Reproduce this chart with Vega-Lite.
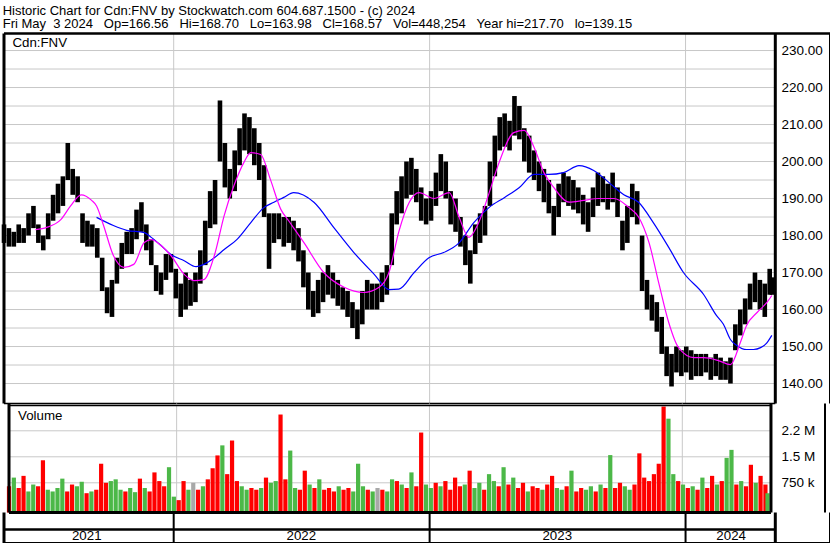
{
"$schema":"https://vega.github.io/schema/vega-lite/v6.json",
"background":"white",
"padding":{"left":1,"top":4.5,"right":2,"bottom":0},
"spacing":0,
"bounds":"flush",
"config":{"view":{"stroke":null},"font":"Liberation Sans","axis":{"labelFont":"Liberation Sans"}},
"title":{"text":["Historic Chart for Cdn:FNV by Stockwatch.com 604.687.1500 - (c) 2024","Fri May\u00a0\u00a03 2024\u00a0\u00a0\u00a0Op=166.56\u00a0\u00a0\u00a0Hi=168.70\u00a0\u00a0\u00a0Lo=163.98\u00a0\u00a0\u00a0Cl=168.57\u00a0\u00a0\u00a0Vol=448,254\u00a0\u00a0\u00a0Year hi=217.70\u00a0\u00a0\u00a0lo=139.15"],"anchor":"start","frame":"bounds","fontSize":13,"fontWeight":"normal","font":"Liberation Sans","color":"#000","lineHeight":13.2,"offset":0.5,"dx":1},
"datasets":{
"w":[
{"t":"2021-05-04","h":183,"l":178,"v":650,"c":"r"},
{"t":"2021-05-11","h":182,"l":177,"v":900,"c":"g"},
{"t":"2021-05-18","h":181,"l":177,"v":600,"c":"r"},
{"t":"2021-05-25","h":183,"l":178,"v":950,"c":"r"},
{"t":"2021-06-01","h":182,"l":178,"v":500,"c":"g"},
{"t":"2021-06-08","h":186,"l":180,"v":700,"c":"g"},
{"t":"2021-06-15","h":188,"l":182,"v":650,"c":"r"},
{"t":"2021-06-22","h":183,"l":178,"v":1400,"c":"r"},
{"t":"2021-06-29","h":180,"l":176,"v":550,"c":"g"},
{"t":"2021-07-06","h":186,"l":179,"v":500,"c":"g"},
{"t":"2021-07-13","h":191,"l":184,"v":600,"c":"g"},
{"t":"2021-07-20","h":194,"l":186,"v":870,"c":"g"},
{"t":"2021-07-27","h":196,"l":188,"v":500,"c":"r"},
{"t":"2021-08-03","h":205,"l":195,"v":700,"c":"r"},
{"t":"2021-08-10","h":198,"l":191,"v":650,"c":"g"},
{"t":"2021-08-17","h":196,"l":189,"v":780,"c":"g"},
{"t":"2021-08-24","h":186,"l":178,"v":450,"c":"r"},
{"t":"2021-08-31","h":184,"l":177,"v":500,"c":"g"},
{"t":"2021-09-07","h":183,"l":177,"v":550,"c":"r"},
{"t":"2021-09-14","h":182,"l":174,"v":1300,"c":"r"},
{"t":"2021-09-21","h":174,"l":165,"v":750,"c":"r"},
{"t":"2021-09-28","h":166,"l":159,"v":800,"c":"g"},
{"t":"2021-10-05","h":168,"l":158,"v":850,"c":"g"},
{"t":"2021-10-12","h":174,"l":167,"v":550,"c":"g"},
{"t":"2021-10-19","h":178,"l":171,"v":500,"c":"r"},
{"t":"2021-10-26","h":181,"l":175,"v":600,"c":"g"},
{"t":"2021-11-02","h":182,"l":175,"v":480,"c":"g"},
{"t":"2021-11-09","h":187,"l":179,"v":870,"c":"r"},
{"t":"2021-11-16","h":189,"l":181,"v":600,"c":"g"},
{"t":"2021-11-23","h":183,"l":176,"v":500,"c":"r"},
{"t":"2021-11-30","h":179,"l":172,"v":1050,"c":"r"},
{"t":"2021-12-07","h":172,"l":165,"v":800,"c":"r"},
{"t":"2021-12-14","h":170,"l":164,"v":650,"c":"r"},
{"t":"2021-12-21","h":175,"l":168,"v":1200,"c":"g"},
{"t":"2021-12-28","h":175,"l":170,"v":350,"c":"g"},
{"t":"2022-01-04","h":171,"l":163,"v":250,"c":"r"},
{"t":"2022-01-11","h":167,"l":158,"v":800,"c":"r"},
{"t":"2022-01-18","h":170,"l":160,"v":550,"c":"g"},
{"t":"2022-01-25","h":168,"l":161,"v":750,"c":"n"},
{"t":"2022-02-01","h":170,"l":162,"v":550,"c":"r"},
{"t":"2022-02-08","h":176,"l":167,"v":650,"c":"g"},
{"t":"2022-02-15","h":184,"l":172,"v":850,"c":"r"},
{"t":"2022-02-22","h":192,"l":182,"v":1170,"c":"r"},
{"t":"2022-03-01","h":195,"l":183,"v":1540,"c":"r"},
{"t":"2022-03-08","h":216.5,"l":200,"v":1830,"c":"g"},
{"t":"2022-03-15","h":205,"l":193,"v":1000,"c":"r"},
{"t":"2022-03-22","h":198,"l":190,"v":1970,"c":"r"},
{"t":"2022-03-29","h":203,"l":192,"v":800,"c":"r"},
{"t":"2022-04-05","h":209,"l":199,"v":650,"c":"g"},
{"t":"2022-04-12","h":213,"l":203,"v":550,"c":"g"},
{"t":"2022-04-19","h":212,"l":202,"v":600,"c":"r"},
{"t":"2022-04-26","h":209,"l":199,"v":550,"c":"r"},
{"t":"2022-05-03","h":205,"l":195,"v":600,"c":"g"},
{"t":"2022-05-10","h":199,"l":185,"v":900,"c":"r"},
{"t":"2022-05-17","h":186,"l":171,"v":750,"c":"g"},
{"t":"2022-05-24","h":186,"l":178,"v":800,"c":"g"},
{"t":"2022-05-31","h":186,"l":179,"v":2720,"c":"r"},
{"t":"2022-06-07","h":185,"l":177,"v":850,"c":"r"},
{"t":"2022-06-14","h":185,"l":178,"v":1680,"c":"g"},
{"t":"2022-06-21","h":184,"l":176,"v":600,"c":"g"},
{"t":"2022-06-28","h":182,"l":173,"v":550,"c":"r"},
{"t":"2022-07-05","h":176,"l":166,"v":1100,"c":"r"},
{"t":"2022-07-12","h":170,"l":160,"v":700,"c":"g"},
{"t":"2022-07-19","h":165,"l":158,"v":600,"c":"r"},
{"t":"2022-07-26","h":168,"l":159,"v":850,"c":"g"},
{"t":"2022-08-02","h":170,"l":162,"v":550,"c":"r"},
{"t":"2022-08-09","h":172,"l":164,"v":600,"c":"r"},
{"t":"2022-08-16","h":170,"l":163,"v":500,"c":"r"},
{"t":"2022-08-23","h":168,"l":161,"v":650,"c":"g"},
{"t":"2022-08-30","h":166,"l":160,"v":550,"c":"r"},
{"t":"2022-09-06","h":165,"l":158,"v":600,"c":"r"},
{"t":"2022-09-13","h":162,"l":155,"v":500,"c":"g"},
{"t":"2022-09-20","h":160,"l":152,"v":1300,"c":"g"},
{"t":"2022-09-27","h":165,"l":156,"v":650,"c":"g"},
{"t":"2022-10-04","h":168,"l":160,"v":550,"c":"r"},
{"t":"2022-10-11","h":167,"l":160,"v":500,"c":"g"},
{"t":"2022-10-18","h":167,"l":160,"v":600,"c":"n"},
{"t":"2022-10-25","h":170,"l":162,"v":550,"c":"r"},
{"t":"2022-11-01","h":172,"l":164,"v":500,"c":"g"},
{"t":"2022-11-08","h":186,"l":172,"v":850,"c":"g"},
{"t":"2022-11-15","h":192,"l":183,"v":800,"c":"r"},
{"t":"2022-11-22","h":196,"l":186,"v":700,"c":"g"},
{"t":"2022-11-29","h":200,"l":190,"v":600,"c":"r"},
{"t":"2022-12-06","h":201,"l":191,"v":1050,"c":"g"},
{"t":"2022-12-13","h":198,"l":189,"v":650,"c":"r"},
{"t":"2022-12-20","h":193,"l":184,"v":2200,"c":"r"},
{"t":"2022-12-27","h":190,"l":183,"v":700,"c":"g"},
{"t":"2023-01-03","h":192,"l":184,"v":600,"c":"g"},
{"t":"2023-01-10","h":197,"l":188,"v":750,"c":"r"},
{"t":"2023-01-17","h":202,"l":192,"v":650,"c":"g"},
{"t":"2023-01-24","h":200,"l":190,"v":800,"c":"r"},
{"t":"2023-01-31","h":192,"l":183,"v":550,"c":"r"},
{"t":"2023-02-07","h":190,"l":181,"v":900,"c":"r"},
{"t":"2023-02-14","h":185,"l":177,"v":650,"c":"r"},
{"t":"2023-02-21","h":180,"l":172,"v":700,"c":"g"},
{"t":"2023-02-28","h":176,"l":167,"v":1100,"c":"r"},
{"t":"2023-03-07","h":183,"l":175,"v":600,"c":"g"},
{"t":"2023-03-14","h":186,"l":178,"v":750,"c":"g"},
{"t":"2023-03-21","h":188,"l":180,"v":550,"c":"r"},
{"t":"2023-03-28","h":200,"l":188,"v":1000,"c":"g"},
{"t":"2023-04-04","h":207,"l":196,"v":800,"c":"g"},
{"t":"2023-04-11","h":212,"l":203,"v":650,"c":"r"},
{"t":"2023-04-18","h":213,"l":204,"v":1200,"c":"g"},
{"t":"2023-04-25","h":211,"l":203,"v":700,"c":"r"},
{"t":"2023-05-02","h":217.7,"l":207,"v":900,"c":"g"},
{"t":"2023-05-09","h":215,"l":206,"v":600,"c":"r"},
{"t":"2023-05-16","h":209,"l":200,"v":750,"c":"r"},
{"t":"2023-05-23","h":207,"l":197,"v":500,"c":"g"},
{"t":"2023-05-30","h":203,"l":195,"v":650,"c":"r"},
{"t":"2023-06-06","h":200,"l":192,"v":600,"c":"r"},
{"t":"2023-06-13","h":198,"l":189,"v":550,"c":"g"},
{"t":"2023-06-20","h":195,"l":186,"v":700,"c":"r"},
{"t":"2023-06-27","h":188,"l":180,"v":950,"c":"r"},
{"t":"2023-07-04","h":194,"l":185,"v":600,"c":"g"},
{"t":"2023-07-11","h":197,"l":189,"v":550,"c":"g"},
{"t":"2023-07-18","h":196,"l":188,"v":650,"c":"r"},
{"t":"2023-07-25","h":195,"l":187,"v":1100,"c":"g"},
{"t":"2023-08-01","h":193,"l":186,"v":500,"c":"r"},
{"t":"2023-08-08","h":191,"l":183,"v":600,"c":"r"},
{"t":"2023-08-15","h":189,"l":181,"v":550,"c":"g"},
{"t":"2023-08-22","h":193,"l":185,"v":650,"c":"g"},
{"t":"2023-08-29","h":197,"l":188,"v":500,"c":"r"},
{"t":"2023-09-05","h":196,"l":189,"v":700,"c":"g"},
{"t":"2023-09-12","h":194,"l":187,"v":600,"c":"r"},
{"t":"2023-09-19","h":197,"l":189,"v":1550,"c":"g"},
{"t":"2023-09-26","h":193,"l":185,"v":600,"c":"r"},
{"t":"2023-10-03","h":184,"l":176,"v":750,"c":"r"},
{"t":"2023-10-10","h":188,"l":178,"v":650,"c":"g"},
{"t":"2023-10-17","h":194,"l":185,"v":550,"c":"g"},
{"t":"2023-10-24","h":192,"l":183,"v":700,"c":"r"},
{"t":"2023-10-31","h":180,"l":165,"v":1600,"c":"r"},
{"t":"2023-11-07","h":168,"l":160,"v":900,"c":"r"},
{"t":"2023-11-14","h":164,"l":157,"v":800,"c":"r"},
{"t":"2023-11-21","h":162,"l":154,"v":1000,"c":"r"},
{"t":"2023-11-28","h":158,"l":148,"v":1300,"c":"r"},
{"t":"2023-12-05","h":150,"l":142,"v":2950,"c":"r"},
{"t":"2023-12-12","h":148,"l":139.2,"v":2600,"c":"g"},
{"t":"2023-12-19","h":150,"l":143,"v":1000,"c":"g"},
{"t":"2023-12-26","h":149,"l":142,"v":800,"c":"r"},
{"t":"2024-01-02","h":150,"l":143,"v":700,"c":"g"},
{"t":"2024-01-09","h":149,"l":141,"v":600,"c":"r"},
{"t":"2024-01-16","h":148,"l":142,"v":650,"c":"g"},
{"t":"2024-01-23","h":148,"l":142,"v":550,"c":"r"},
{"t":"2024-01-30","h":148,"l":143,"v":900,"c":"g"},
{"t":"2024-02-06","h":147,"l":141,"v":600,"c":"r"},
{"t":"2024-02-13","h":148,"l":142,"v":950,"c":"r"},
{"t":"2024-02-20","h":147,"l":141,"v":700,"c":"g"},
{"t":"2024-02-27","h":146,"l":141,"v":800,"c":"r"},
{"t":"2024-03-05","h":147,"l":140,"v":1470,"c":"g"},
{"t":"2024-03-12","h":156,"l":149,"v":1700,"c":"g"},
{"t":"2024-03-19","h":160,"l":153,"v":700,"c":"r"},
{"t":"2024-03-26","h":163,"l":156,"v":800,"c":"g"},
{"t":"2024-04-02","h":167,"l":160,"v":650,"c":"r"},
{"t":"2024-04-09","h":170,"l":162,"v":1270,"c":"r"},
{"t":"2024-04-16","h":168,"l":160,"v":750,"c":"g"},
{"t":"2024-04-23","h":167,"l":158,"v":950,"c":"r"},
{"t":"2024-04-30","h":171,"l":164,"v":700,"c":"r"},
{"t":"2024-05-03","h":168.7,"l":163.98,"v":448,"c":"g"}
],
"ma1":[
{"t":"2021-06-18","m":181.6},{"t":"2021-07-04","m":182.2},{"t":"2021-07-24","m":184.3},{"t":"2021-08-07","m":188},{"t":"2021-08-22","m":191},{"t":"2021-09-06","m":189.5},{"t":"2021-09-13","m":188},{"t":"2021-09-23","m":182.7},{"t":"2021-10-07","m":174.6},{"t":"2021-10-22","m":171.4},{"t":"2021-11-05","m":172.2},{"t":"2021-11-20","m":178.1},{"t":"2021-11-30","m":178.9},{"t":"2021-12-14","m":177.3},{"t":"2021-12-28","m":174.6},{"t":"2022-01-16","m":169.5},{"t":"2022-01-30","m":167.8},{"t":"2022-02-13","m":168.1},{"t":"2022-02-28","m":174.6},{"t":"2022-03-14","m":185.4},{"t":"2022-03-28","m":193.5},{"t":"2022-04-11","m":199.7},{"t":"2022-04-21","m":202.4},{"t":"2022-05-05","m":201.9},{"t":"2022-05-19","m":195.1},{"t":"2022-06-03","m":187},{"t":"2022-06-14","m":184},{"t":"2022-07-06","m":178},{"t":"2022-08-03","m":170},{"t":"2022-09-01","m":166},{"t":"2022-09-29","m":164.6},{"t":"2022-10-21","m":166},{"t":"2022-11-04","m":170},{"t":"2022-11-18","m":181},{"t":"2022-12-03","m":189},{"t":"2022-12-17","m":191.6},{"t":"2023-01-07","m":190},{"t":"2023-01-29","m":191.6},{"t":"2023-02-12","m":185},{"t":"2023-02-26","m":179.5},{"t":"2023-03-12","m":183.5},{"t":"2023-03-27","m":191.6},{"t":"2023-04-10","m":199.7},{"t":"2023-05-01","m":207.8},{"t":"2023-05-16","m":208.4},{"t":"2023-05-30","m":203.8},{"t":"2023-06-13","m":197},{"t":"2023-06-27","m":193},{"t":"2023-07-19","m":189},{"t":"2023-08-09","m":189.5},{"t":"2023-08-30","m":190},{"t":"2023-09-21","m":190},{"t":"2023-10-12","m":187.6},{"t":"2023-10-26","m":185},{"t":"2023-11-10","m":178},{"t":"2023-11-24","m":167},{"t":"2023-12-08","m":156.5},{"t":"2023-12-22","m":149.7},{"t":"2024-01-13","m":147},{"t":"2024-01-27","m":147},{"t":"2024-02-17","m":146.2},{"t":"2024-03-05","m":145.1},{"t":"2024-03-19","m":151},{"t":"2024-03-28","m":155.7},{"t":"2024-04-12","m":159.2},{"t":"2024-04-26","m":161.9},{"t":"2024-05-03","m":163.8}
],
"ma2":[
{"t":"2021-09-13","m":184.9},{"t":"2021-10-07","m":182.7},{"t":"2021-10-26","m":181.4},{"t":"2021-11-20","m":180.8},{"t":"2021-11-30","m":179.5},{"t":"2021-12-14","m":177.3},{"t":"2021-12-28","m":174.9},{"t":"2022-01-16","m":173.2},{"t":"2022-02-02","m":171.6},{"t":"2022-02-13","m":172.2},{"t":"2022-02-28","m":174},{"t":"2022-03-14","m":176.2},{"t":"2022-04-01","m":178.9},{"t":"2022-04-21","m":183.5},{"t":"2022-05-10","m":187.6},{"t":"2022-05-24","m":189},{"t":"2022-06-07","m":190.3},{"t":"2022-06-21","m":191.6},{"t":"2022-07-20","m":189},{"t":"2022-08-18","m":182},{"t":"2022-09-15","m":175.4},{"t":"2022-10-14","m":169.5},{"t":"2022-11-04","m":165.4},{"t":"2022-11-18","m":165.5},{"t":"2022-12-10","m":170},{"t":"2022-12-31","m":174},{"t":"2023-01-21","m":175.4},{"t":"2023-02-12","m":178},{"t":"2023-03-05","m":183.5},{"t":"2023-03-27","m":187.6},{"t":"2023-04-18","m":190.3},{"t":"2023-05-09","m":193},{"t":"2023-05-30","m":196.5},{"t":"2023-06-20","m":196.5},{"t":"2023-07-11","m":197},{"t":"2023-08-02","m":198.9},{"t":"2023-08-23","m":197.6},{"t":"2023-09-14","m":194.3},{"t":"2023-10-05","m":191},{"t":"2023-10-26","m":189},{"t":"2023-11-16","m":183.5},{"t":"2023-12-08","m":176.8},{"t":"2023-12-29","m":170},{"t":"2024-01-27","m":164},{"t":"2024-02-14","m":158.4},{"t":"2024-02-24","m":156},{"t":"2024-03-05","m":151.9},{"t":"2024-03-14","m":150.3},{"t":"2024-03-28","m":149.2},{"t":"2024-04-07","m":149.2},{"t":"2024-04-17","m":149.7},{"t":"2024-04-26","m":151},{"t":"2024-05-03","m":153}
],
"yb":[{"b":"2022-01-01"},{"b":"2023-01-01"},{"b":"2024-01-01"}],
"yl":[{"yr":"2021","m":"2021-08-30"},{"yr":"2022","m":"2022-07-02"},{"yr":"2023","m":"2023-07-02"},{"yr":"2024","m":"2024-03-06"}],
"pg":[{"p":140},{"p":145},{"p":150},{"p":155},{"p":160},{"p":165},{"p":170},{"p":175},{"p":180},{"p":185},{"p":190},{"p":195},{"p":200},{"p":205},{"p":210},{"p":215},{"p":220},{"p":225},{"p":230}],
"vg":[{"v":750},{"v":1500},{"v":2250}],
"one":[{"k":1}]
},
"vconcat":[
{"width":826,"height":370,
 "layer":[
  {"data":{"name":"pg"},"mark":{"type":"rule","color":"#c8c8c8","strokeWidth":1},
   "encoding":{
    "y":{"field":"p","type":"quantitative","title":null,"scale":{"domain":[134.6,234.6],"nice":false,"zero":false},
     "axis":{"orient":"right","offset":-49,"values":[140,145,150,155,160,165,170,175,180,185,190,195,200,205,210,215,220,225,230],"format":".2f","ticks":false,"tickSize":0,"domain":false,"grid":false,"labelPadding":0,"labelAlign":"left","labelBaseline":"middle","labelFontSize":13.5,"labelColor":"#000","labelOverlap":false,"labelFlush":false,"labelBound":false,"title":null}},
    "x":{"datum":{"year":2021,"month":5,"date":4,"utc":true},"type":"temporal","axis":null,"scale":{"domain":[{"year":2021,"month":5,"date":4,"utc":true},{"year":2024,"month":7,"date":25,"utc":true}]}},
    "x2":{"datum":{"year":2024,"month":5,"date":8,"utc":true}}}},
  {"data":{"name":"yb"},"mark":{"type":"rule","color":"#c8c8c8","strokeWidth":1},
   "encoding":{"x":{"field":"b","type":"temporal","axis":null},"y":{"datum":134.6},"y2":{"datum":234.6}}},
  {"data":{"name":"w"},"mark":{"type":"rule","color":"#000","strokeWidth":4.6},
   "encoding":{"x":{"field":"t","type":"temporal","axis":null},"y":{"field":"h","type":"quantitative","title":null},"y2":{"field":"l"}}},
  {"data":{"name":"ma2"},"mark":{"type":"line","color":"#0000ff","strokeWidth":1.2,"interpolate":"monotone"},
   "encoding":{"x":{"field":"t","type":"temporal","axis":null},"y":{"field":"m","type":"quantitative","title":null}}},
  {"data":{"name":"ma1"},"mark":{"type":"line","color":"#ff00ff","strokeWidth":1.2,"interpolate":"monotone"},
   "encoding":{"x":{"field":"t","type":"temporal","axis":null},"y":{"field":"m","type":"quantitative","title":null}}},
  {"data":{"values":[{"s":"Cdn:FNV"}]},"mark":{"type":"text","align":"left","baseline":"middle","fontSize":13.3,"color":"#000"},
   "encoding":{"text":{"field":"s"},"x":{"datum":{"year":2021,"month":5,"date":16,"utc":true},"type":"temporal","axis":null},"y":{"datum":231.9}}},
  {"data":{"name":"one"},"mark":{"type":"rule","color":"#000","strokeWidth":2.5},
   "encoding":{"x":{"datum":{"year":2021,"month":5,"date":4,"utc":true},"type":"temporal","axis":null},"x2":{"datum":{"year":2024,"month":7,"date":25,"utc":true}},"y":{"datum":234.6}}},
  {"data":{"name":"one"},"mark":{"type":"rule","color":"#000","strokeWidth":1.5},
   "encoding":{"x":{"datum":{"year":2021,"month":5,"date":4,"utc":true},"type":"temporal","axis":null},"x2":{"datum":{"year":2024,"month":5,"date":8,"utc":true}},"y":{"datum":134.6}}},
  {"data":{"name":"one"},"mark":{"type":"rule","color":"#000","strokeWidth":3},
   "encoding":{"x":{"datum":{"year":2021,"month":5,"date":4,"utc":true},"type":"temporal","axis":null},"y":{"datum":134.6},"y2":{"datum":234.6}}},
  {"data":{"name":"one"},"mark":{"type":"rule","color":"#000","strokeWidth":3},
   "encoding":{"x":{"datum":{"year":2024,"month":5,"date":8,"utc":true},"type":"temporal","axis":null},"y":{"datum":134.6},"y2":{"datum":234.6}}},
  {"data":{"name":"one"},"mark":{"type":"rule","color":"#000","strokeWidth":2},
   "encoding":{"x":{"datum":{"year":2024,"month":7,"date":25,"utc":true},"type":"temporal","axis":null},"y":{"datum":134.6},"y2":{"datum":234.6}}}
 ]},
{"width":826,"height":109,
 "layer":[
  {"data":{"name":"vg"},"mark":{"type":"rule","color":"#c8c8c8","strokeWidth":1},
   "encoding":{
    "y":{"field":"v","type":"quantitative","title":null,"scale":{"domain":[-107,3038],"nice":false,"zero":false},
     "axis":{"orient":"right","offset":-49,"values":[750,1500,2250],"labelExpr":"datum.value == 750 ? '750 k' : datum.value == 1500 ? '1.5 M' : '2.2 M'","ticks":false,"tickSize":0,"domain":false,"grid":false,"labelPadding":0,"labelAlign":"left","labelBaseline":"middle","labelFontSize":13.5,"labelColor":"#000","labelOverlap":false,"labelFlush":false,"labelBound":false,"title":null}},
    "x":{"datum":{"year":2021,"month":5,"date":4,"utc":true},"type":"temporal","axis":null,"scale":{"domain":[{"year":2021,"month":5,"date":4,"utc":true},{"year":2024,"month":7,"date":25,"utc":true}]}},
    "x2":{"datum":{"year":2024,"month":5,"date":8,"utc":true}}}},
  {"data":{"name":"yb"},"mark":{"type":"rule","color":"#c8c8c8","strokeWidth":1},
   "encoding":{"x":{"field":"b","type":"temporal","axis":null},"y":{"datum":-107},"y2":{"datum":3038}}},
  {"data":{"name":"w"},"mark":{"type":"bar","width":4.2},
   "encoding":{"x":{"field":"t","type":"temporal","axis":null},"y":{"field":"v","type":"quantitative","title":null},"y2":{"datum":-107},
    "color":{"field":"c","type":"nominal","scale":{"domain":["r","g","n"],"range":["#ff0000","#4cb848","#a8a8a8"]},"legend":null}}},
  {"data":{"values":[{"s":"Volume"}]},"mark":{"type":"text","align":"left","baseline":"middle","fontSize":13.3,"color":"#000"},
   "encoding":{"text":{"field":"s"},"x":{"datum":{"year":2021,"month":5,"date":17,"utc":true},"type":"temporal","axis":null},"y":{"datum":2663}}},
  {"data":{"name":"one"},"mark":{"type":"rule","color":"#000","strokeWidth":1.5},
   "encoding":{"x":{"datum":{"year":2021,"month":5,"date":4,"utc":true},"type":"temporal","axis":null},"x2":{"datum":{"year":2024,"month":5,"date":8,"utc":true}},"y":{"datum":2980}}},
  {"data":{"name":"one"},"mark":{"type":"rule","color":"#000","strokeWidth":3},
   "encoding":{"x":{"datum":{"year":2021,"month":5,"date":4,"utc":true},"type":"temporal","axis":null},"x2":{"datum":{"year":2024,"month":5,"date":8,"utc":true}},"y":{"datum":-107}}},
  {"data":{"name":"one"},"mark":{"type":"rule","color":"#000","strokeWidth":3},
   "encoding":{"x":{"datum":{"year":2021,"month":5,"date":4,"utc":true},"type":"temporal","axis":null},"y":{"datum":-107},"y2":{"datum":3038}}},
  {"data":{"name":"one"},"mark":{"type":"rule","color":"#000","strokeWidth":3},
   "encoding":{"x":{"datum":{"year":2024,"month":5,"date":8,"utc":true},"type":"temporal","axis":null},"y":{"datum":-107},"y2":{"datum":3038}}},
  {"data":{"name":"one"},"mark":{"type":"rule","color":"#000","strokeWidth":2},
   "encoding":{"x":{"datum":{"year":2024,"month":7,"date":25,"utc":true},"type":"temporal","axis":null},"y":{"datum":-107},"y2":{"datum":3038}}}
 ]},
{"width":826,"height":31,
 "layer":[
  {"data":{"name":"yb"},"mark":{"type":"rule","color":"#000","strokeWidth":2},
   "encoding":{"x":{"field":"b","type":"temporal","axis":null,"scale":{"domain":[{"year":2021,"month":5,"date":4,"utc":true},{"year":2024,"month":7,"date":25,"utc":true}]}},
    "y":{"datum":0,"type":"quantitative","axis":null,"scale":{"domain":[0,1],"nice":false,"zero":false}},"y2":{"datum":1}}},
  {"data":{"name":"yl"},"mark":{"type":"text","align":"center","baseline":"middle","fontSize":13.3,"color":"#000"},
   "encoding":{"text":{"field":"yr"},"x":{"field":"m","type":"temporal","axis":null},"y":{"datum":0.226}}},
  {"data":{"name":"one"},"mark":{"type":"rule","color":"#000","strokeWidth":2.5},
   "encoding":{"x":{"datum":{"year":2021,"month":5,"date":4,"utc":true},"type":"temporal","axis":null},"x2":{"datum":{"year":2024,"month":5,"date":8,"utc":true}},"y":{"datum":0.452}}},
  {"data":{"name":"one"},"mark":{"type":"rule","color":"#000","strokeWidth":3},
   "encoding":{"x":{"datum":{"year":2021,"month":5,"date":4,"utc":true},"type":"temporal","axis":null},"x2":{"datum":{"year":2024,"month":7,"date":25,"utc":true}},"y":{"datum":0}}},
  {"data":{"name":"one"},"mark":{"type":"rule","color":"#000","strokeWidth":3},
   "encoding":{"x":{"datum":{"year":2021,"month":5,"date":4,"utc":true},"type":"temporal","axis":null},"y":{"datum":0},"y2":{"datum":1}}},
  {"data":{"name":"one"},"mark":{"type":"rule","color":"#000","strokeWidth":3},
   "encoding":{"x":{"datum":{"year":2024,"month":5,"date":8,"utc":true},"type":"temporal","axis":null},"y":{"datum":0},"y2":{"datum":1}}},
  {"data":{"name":"one"},"mark":{"type":"rule","color":"#000","strokeWidth":2},
   "encoding":{"x":{"datum":{"year":2024,"month":7,"date":25,"utc":true},"type":"temporal","axis":null},"y":{"datum":0},"y2":{"datum":1}}}
 ]}
]
}
